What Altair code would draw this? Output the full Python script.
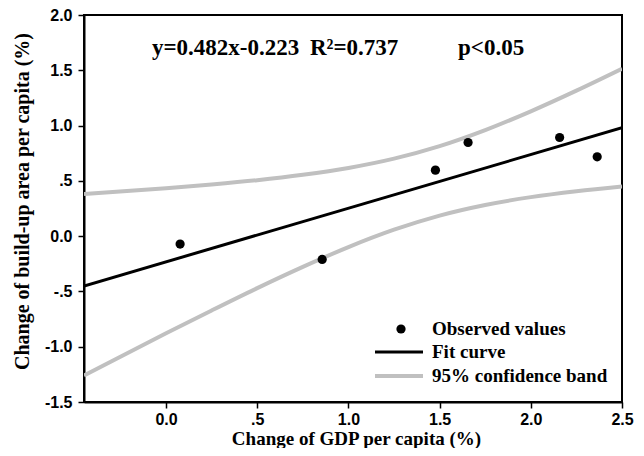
import altair as alt
import pandas as pd

obs_x = [0.077, 0.856, 1.477, 1.656, 2.158, 2.364]
obs_y = [-0.072, -0.211, 0.597, 0.847, 0.892, 0.717]

# 95% confidence band
band_x = [-0.45, 0.0, 0.25, 0.5, 0.75, 1.0, 1.25, 1.5, 1.75, 2.0, 2.25, 2.5]
band_upper = [0.380, 0.433, 0.467, 0.506, 0.555, 0.617, 0.701, 0.814, 0.959, 1.129, 1.316, 1.514]
band_lower = [-1.260, -0.879, -0.672, -0.470, -0.278, -0.099, 0.058, 0.186, 0.282, 0.353, 0.407, 0.450]

x_ticks = [0.0, 0.5, 1.0, 1.5, 2.0, 2.5]
y_ticks = [-1.5, -1.0, -0.5, 0.0, 0.5, 1.0, 1.5, 2.0]
x_domain = [-0.45, 2.5]
y_domain = [-1.5, 2.0]

legend_labels = ["Observed values", "Fit curve", "95% confidence band"]
annot = ["y=0.482x-0.223", "R\u00b2=0.737", "p<0.05"]

obs = pd.DataFrame({"x": obs_x, "y": obs_y})
band = pd.DataFrame({"x": band_x * 2,
                     "y": band_upper + band_lower,
                     "side": ["upper"] * len(band_x) + ["lower"] * len(band_x)})

SERIF = "Liberation Serif"
SANS = "Liberation Sans"

xs = alt.Scale(domain=x_domain, nice=False, zero=False)
ys = alt.Scale(domain=y_domain, nice=False, zero=False)

x_axis = alt.Axis(values=x_ticks,
                  labelExpr="datum.value == 0.5 ? '.5' : format(datum.value, '.1f')",
                  title="Change of GDP per capita (%)", grid=False,
                  labelFlush=False, labelOverlap=False, labelPadding=3,
                  titleFontSize=19, titleBaseline="alphabetic", titleY=42,
                  titleX=272, titleAlign="center", titleLimit=1000)
y_axis = alt.Axis(values=y_ticks,
                  labelExpr="datum.value == 0.5 ? '.5' : datum.value == -0.5 ? '-.5' : (datum.value < 0 ? '-' : '') + format(abs(datum.value), '.1f')",
                  title="Change of build-up area per capita (%)", grid=False,
                  labelOverlap=False, titleLimit=1000, labelPadding=6,
                  titleFontSize=20, titleX=-62, titleY=186, titleAngle=270,
                  titleAlign="center", titleBaseline="middle")

band_layer = alt.Chart(band).mark_line(color="#c0c0c0", strokeWidth=4,
                                       interpolate="monotone", clip=True).encode(
    x=alt.X("x:Q", scale=xs, axis=x_axis),
    y=alt.Y("y:Q", scale=ys, axis=y_axis),
    detail="side:N",
)

fit_layer = alt.Chart(obs).transform_regression(
    "x", "y", extent=x_domain
).mark_line(color="black", strokeWidth=3, clip=True).encode(
    x=alt.X("x:Q", scale=xs),
    y=alt.Y("y:Q", scale=ys),
)

pts_layer = alt.Chart(obs).mark_circle(color="black", size=85, opacity=1).encode(
    x=alt.X("x:Q", scale=xs),
    y=alt.Y("y:Q", scale=ys),
)

one = pd.DataFrame({"k": [0]})

# Annotation
annot_x = [68, 226, 374]
annot_layers = [
    alt.Chart(one).mark_text(text=t, font=SERIF, fontWeight="bold", fontSize=23,
                             align="left", baseline="middle", color="black").encode(
        x=alt.value(ax), y=alt.value(33))
    for t, ax in zip(annot, annot_x)
]

# Manual legend
leg_y = [314, 337, 361]
leg_text = [
    alt.Chart(one).mark_text(text=t, font=SERIF, fontWeight="bold", fontSize=19,
                             align="left", baseline="middle", color="black").encode(
        x=alt.value(348), y=alt.value(ly))
    for t, ly in zip(legend_labels, leg_y)
]
leg_dot = alt.Chart(one).mark_circle(color="black", size=85, opacity=1).encode(
    x=alt.value(317), y=alt.value(leg_y[0]))
leg_fit = alt.Chart(one).mark_rule(color="black", strokeWidth=3).encode(
    x=alt.value(291), x2=alt.value(339), y=alt.value(leg_y[1]))
leg_band = alt.Chart(one).mark_rule(color="#c0c0c0", strokeWidth=4).encode(
    x=alt.value(291), x2=alt.value(339), y=alt.value(leg_y[2]))

chart = alt.layer(
    band_layer, fit_layer, pts_layer, *annot_layers, leg_dot, leg_fit, leg_band, *leg_text
).properties(
    width=538, height=387,
    autosize=alt.AutoSizeParams(type="none"),
    padding={"left": 76, "top": 7, "right": 14, "bottom": 46},
    background="white",
).configure_view(
    stroke="black", strokeWidth=2
).configure_axis(
    domainColor="black", domainWidth=2,
    tickColor="black", tickWidth=1.5, tickSize=6,
    labelFont=SANS, labelFontWeight="bold", labelFontSize=16, labelColor="black",
    titleFont=SERIF, titleFontWeight="bold", titleColor="black",
)

chart.save("out.html", embed_options={"renderer": "svg", "actions": False})
